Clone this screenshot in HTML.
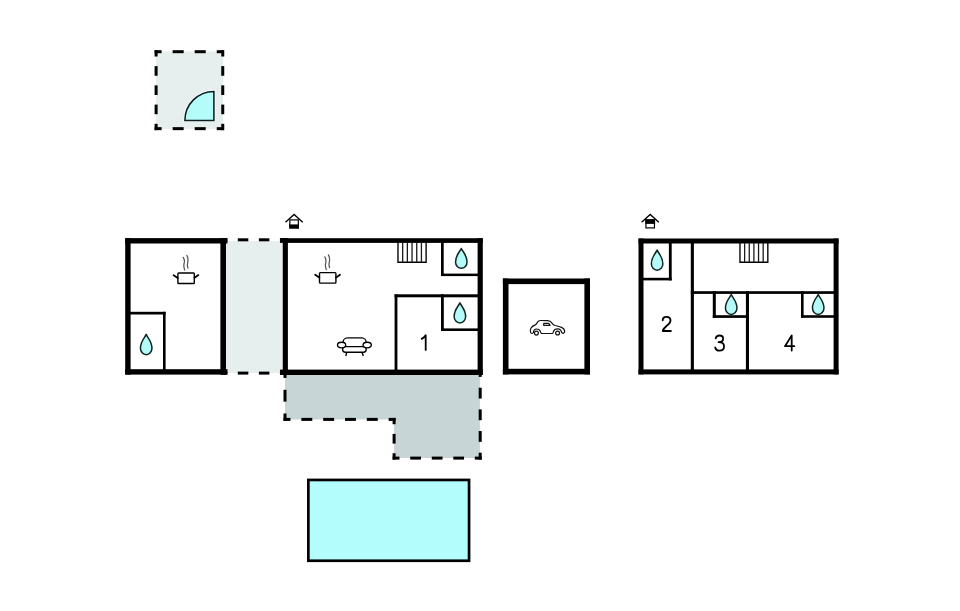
<!DOCTYPE html>
<html><head><meta charset="utf-8"><title>Floor plan</title>
<style>
html,body{margin:0;padding:0;background:#fff;}
body{width:960px;height:611px;overflow:hidden;position:relative;font-family:"Liberation Sans",sans-serif;}
svg{position:absolute;left:0;top:0;display:block;}
</style></head>
<body>
<svg width="960" height="611" viewBox="0 0 960 611">
<rect x="0" y="0" width="960" height="611" fill="#fff"/>
<rect x="156.00" y="51.50" width="67.00" height="77.50" fill="#e6efee"/>
<rect x="154.60" y="50.20" width="7.01" height="3.00" fill="#000"/>
<rect x="216.74" y="50.20" width="7.01" height="3.00" fill="#000"/>
<rect x="172.64" y="50.20" width="11.03" height="3.00" fill="#000"/>
<rect x="194.69" y="50.20" width="11.03" height="3.00" fill="#000"/>
<rect x="154.60" y="127.15" width="7.01" height="3.00" fill="#000"/>
<rect x="216.74" y="127.15" width="7.01" height="3.00" fill="#000"/>
<rect x="172.64" y="127.15" width="11.03" height="3.00" fill="#000"/>
<rect x="194.69" y="127.15" width="11.03" height="3.00" fill="#000"/>
<rect x="154.60" y="50.20" width="3.00" height="6.31" fill="#000"/>
<rect x="154.60" y="123.84" width="3.00" height="6.31" fill="#000"/>
<rect x="154.60" y="66.13" width="3.00" height="9.62" fill="#000"/>
<rect x="154.60" y="85.37" width="3.00" height="9.62" fill="#000"/>
<rect x="154.60" y="104.60" width="3.00" height="9.62" fill="#000"/>
<rect x="221.25" y="50.20" width="3.00" height="6.31" fill="#000"/>
<rect x="221.25" y="123.84" width="3.00" height="6.31" fill="#000"/>
<rect x="221.25" y="66.13" width="3.00" height="9.62" fill="#000"/>
<rect x="221.25" y="85.37" width="3.00" height="9.62" fill="#000"/>
<rect x="221.25" y="104.60" width="3.00" height="9.62" fill="#000"/>
<path d="M213.9,120.4 L184.9,120.4 A29.0,29.0 0 0 1 213.9,91.4 Z" fill="#b3fcf9" stroke="#f4fbfb" stroke-width="3.2" stroke-linejoin="miter"/>
<path d="M213.9,120.4 L184.9,120.4 A29.0,29.0 0 0 1 213.9,91.4 Z" fill="#b3fcf9" stroke="#0c1f1e" stroke-width="1.55" stroke-linejoin="miter"/>
<rect x="226.00" y="241.00" width="56.00" height="132.00" fill="#e6efee"/>
<rect x="220.50" y="238.30" width="6.77" height="3.00" fill="#000"/>
<rect x="279.93" y="238.30" width="6.77" height="3.00" fill="#000"/>
<rect x="237.80" y="238.30" width="10.53" height="3.00" fill="#000"/>
<rect x="258.87" y="238.30" width="10.53" height="3.00" fill="#000"/>
<rect x="220.50" y="371.60" width="6.77" height="3.00" fill="#000"/>
<rect x="279.93" y="371.60" width="6.77" height="3.00" fill="#000"/>
<rect x="237.80" y="371.60" width="10.53" height="3.00" fill="#000"/>
<rect x="258.87" y="371.60" width="10.53" height="3.00" fill="#000"/>
<path d="M285,372 H479.9 V458.1 H394.1 V419.4 H285 Z" fill="#c7d5d6"/>
<rect x="283.50" y="370.50" width="3.00" height="7.43" fill="#000"/>
<rect x="283.50" y="413.47" width="3.00" height="7.43" fill="#000"/>
<rect x="283.50" y="389.77" width="3.00" height="11.85" fill="#000"/>
<rect x="283.50" y="417.90" width="6.95" height="3.00" fill="#000"/>
<rect x="388.65" y="417.90" width="6.95" height="3.00" fill="#000"/>
<rect x="301.37" y="417.90" width="10.91" height="3.00" fill="#000"/>
<rect x="323.19" y="417.90" width="10.91" height="3.00" fill="#000"/>
<rect x="345.00" y="417.90" width="10.91" height="3.00" fill="#000"/>
<rect x="366.83" y="417.90" width="10.91" height="3.00" fill="#000"/>
<rect x="392.60" y="417.90" width="3.00" height="6.34" fill="#000"/>
<rect x="392.60" y="453.26" width="3.00" height="6.34" fill="#000"/>
<rect x="392.60" y="433.91" width="3.00" height="9.68" fill="#000"/>
<rect x="392.60" y="456.60" width="6.88" height="3.00" fill="#000"/>
<rect x="474.82" y="456.60" width="6.88" height="3.00" fill="#000"/>
<rect x="410.24" y="456.60" width="10.76" height="3.00" fill="#000"/>
<rect x="431.77" y="456.60" width="10.76" height="3.00" fill="#000"/>
<rect x="453.29" y="456.60" width="10.76" height="3.00" fill="#000"/>
<rect x="478.70" y="370.00" width="3.00" height="6.91" fill="#000"/>
<rect x="478.70" y="452.69" width="3.00" height="6.91" fill="#000"/>
<rect x="478.70" y="387.74" width="3.00" height="10.82" fill="#000"/>
<rect x="478.70" y="409.39" width="3.00" height="10.82" fill="#000"/>
<rect x="478.70" y="431.04" width="3.00" height="10.82" fill="#000"/>
<rect x="308.35" y="479.95" width="160.7" height="80.8" fill="#b3fefd" stroke="#000" stroke-width="2.7"/>
<rect x="125.20" y="238.20" width="5.40" height="136.40" fill="#000"/>
<rect x="220.40" y="238.20" width="5.60" height="136.40" fill="#000"/>
<rect x="125.20" y="238.10" width="102.30" height="5.40" fill="#000"/>
<rect x="125.20" y="369.20" width="102.30" height="5.40" fill="#000"/>
<rect x="130.00" y="311.80" width="35.60" height="2.70" fill="#000"/>
<rect x="163.00" y="311.80" width="2.60" height="58.20" fill="#000"/>
<path d="M146.20,334.40 C147.92,338.27 151.95,341.30 151.95,348.21 A5.75,6.44 0 0 1 140.45,348.21 C140.45,341.30 144.47,338.27 146.20,334.40 Z" fill="#b3faf8" stroke="#0f2624" stroke-width="1.5" stroke-linejoin="round"/>
<g transform="translate(-141.60,0.40)">
<rect x="319.5" y="272.6" width="16.4" height="10.5" rx="0.8" fill="#fff" stroke="#000" stroke-width="1.4"/>
<path d="M315.2,274.8 L319.3,277.6 M336.1,277.4 L340,274.7" fill="none" stroke="#000" stroke-width="1.8" stroke-linecap="round"/>
<path d="M324.8,256.9 C325.8,258.5 326.3,259.6 326.0,261.5 C325.6,263.5 325.2,265 325.5,266.5 C325.7,267.8 326.1,268.8 326.3,269.6" fill="none" stroke="#555" stroke-width="1.25" stroke-linecap="round"/>
<path d="M328.4,254.9 C329.3,256.5 329.8,258.2 329.6,260.2 C329.4,262 328.9,263.5 329.0,265 C329.1,266.2 329.4,267 329.6,267.7" fill="none" stroke="#555" stroke-width="1.25" stroke-linecap="round"/>
</g>
<rect x="280.00" y="238.20" width="202.80" height="4.70" fill="#000"/>
<rect x="280.00" y="369.60" width="202.80" height="5.40" fill="#000"/>
<rect x="282.70" y="238.20" width="5.20" height="136.80" fill="#000"/>
<rect x="477.60" y="238.20" width="5.20" height="136.80" fill="#000"/>
<rect x="441.00" y="242.00" width="2.70" height="33.80" fill="#000"/>
<rect x="441.00" y="273.60" width="37.00" height="2.50" fill="#000"/>
<rect x="394.60" y="294.30" width="2.80" height="75.70" fill="#000"/>
<rect x="394.60" y="294.30" width="83.40" height="3.00" fill="#000"/>
<rect x="441.00" y="294.30" width="2.80" height="36.70" fill="#000"/>
<rect x="441.00" y="328.40" width="37.00" height="2.60" fill="#000"/>
<g fill="none" stroke="#000" stroke-width="1.35">
<path d="M397.98,242.50 V262.22 H426.12 V242.50"/>
<path d="M402.67,242.50 V262.22" stroke="#1a1a1a" stroke-width="1.3"/>
<path d="M407.36,242.50 V262.22" stroke="#1a1a1a" stroke-width="1.3"/>
<path d="M412.05,242.50 V262.22" stroke="#1a1a1a" stroke-width="1.3"/>
<path d="M416.74,242.50 V262.22" stroke="#1a1a1a" stroke-width="1.3"/>
<path d="M421.43,242.50 V262.22" stroke="#1a1a1a" stroke-width="1.3"/>
</g>
<path d="M461.30,248.50 C463.03,252.25 467.05,255.21 467.05,261.91 A5.75,6.44 0 0 1 455.55,261.91 C455.55,255.21 459.57,252.25 461.30,248.50 Z" fill="#b3faf8" stroke="#0f2624" stroke-width="1.5" stroke-linejoin="round"/>
<path d="M459.90,302.90 C461.62,306.71 465.65,309.70 465.65,316.51 A5.75,6.44 0 0 1 454.15,316.51 C454.15,309.70 458.17,306.71 459.90,302.90 Z" fill="#b3faf8" stroke="#0f2624" stroke-width="1.5" stroke-linejoin="round"/>
<g transform="translate(0.00,0.00)">
<rect x="319.5" y="272.6" width="16.4" height="10.5" rx="0.8" fill="#fff" stroke="#000" stroke-width="1.4"/>
<path d="M315.2,274.8 L319.3,277.6 M336.1,277.4 L340,274.7" fill="none" stroke="#000" stroke-width="1.8" stroke-linecap="round"/>
<path d="M324.8,256.9 C325.8,258.5 326.3,259.6 326.0,261.5 C325.6,263.5 325.2,265 325.5,266.5 C325.7,267.8 326.1,268.8 326.3,269.6" fill="none" stroke="#555" stroke-width="1.25" stroke-linecap="round"/>
<path d="M328.4,254.9 C329.3,256.5 329.8,258.2 329.6,260.2 C329.4,262 328.9,263.5 329.0,265 C329.1,266.2 329.4,267 329.6,267.7" fill="none" stroke="#555" stroke-width="1.25" stroke-linecap="round"/>
</g>
<g fill="#fff" stroke="#000" stroke-width="1.35">
<rect x="343" y="337.8" width="23.2" height="9.6" rx="4.5"/>
<rect x="342.6" y="346.6" width="23.6" height="5.6" rx="2.8"/>
<ellipse cx="341.6" cy="345" rx="4.1" ry="2.8"/>
<ellipse cx="367.2" cy="345" rx="4.1" ry="2.8"/>
<path d="M346.7,352.5 L345.8,356 M362.1,352.5 L363.3,356" fill="none"/>
</g>
<path d="M421.7,338.9 C423.4,337.9 424.8,336.8 425.7,335.2 V349.9" fill="none" stroke="#000" stroke-width="1.8" stroke-linecap="round" stroke-linejoin="round"/>
<g>
<path d="M285.50,222.20 L294.10,214.40 L302.70,222.20" fill="none" stroke="#000" stroke-width="1.35" stroke-linecap="butt"/>
<rect x="289.85" y="219.9" width="8.5" height="8.0" fill="#fff" stroke="#000" stroke-width="1.2"/>
<rect x="289.25" y="224.40" width="9.70" height="4.10" fill="#000"/>
</g>
<rect x="502.90" y="278.50" width="87.10" height="5.60" fill="#000"/>
<rect x="502.90" y="368.80" width="87.10" height="5.60" fill="#000"/>
<rect x="502.90" y="278.50" width="5.60" height="95.90" fill="#000"/>
<rect x="584.40" y="278.50" width="5.60" height="95.90" fill="#000"/>
<g fill="none" stroke="#111" stroke-width="1.2" stroke-linejoin="round" stroke-linecap="round">
<path d="M532.4,333.4 C531.6,333.4 531.0,333.2 530.6,332.4 C530.2,331.4 530.2,329.4 530.9,328.2 C531.9,326.5 533.6,325.6 535.2,324.9 C536.4,324.3 537.0,322.8 537.9,321.7 C538.7,320.8 539.6,320.5 541.0,320.5 L547.6,320.6 C549.6,320.7 550.9,321.6 551.8,322.9 C552.6,324.0 553.2,325.0 555.1,325.5 C557.5,326.0 560.0,326.6 562.0,327.6 C563.4,328.3 564.4,329.4 564.6,330.8 C564.8,332.2 564.2,333.2 563.0,333.3 C562.4,333.3 561.9,332.9 561.6,332.2" />
<path d="M533.4,332.6 C533.6,330.4 534.8,329.0 536.5,329.0 C538.4,329.0 539.7,330.0 540.2,331.0 C540.6,332.0 540.8,333.4 541.6,333.5 L552.4,333.5 C553.0,333.4 553.2,332.5 553.5,331.4 C554.0,329.8 555.6,328.8 557.6,328.8 C559.8,328.8 561.2,330.4 561.6,332.2" />
<circle cx="536.4" cy="333.1" r="1.95" fill="#fff"/>
<circle cx="557.6" cy="333.0" r="1.95" fill="#fff"/>
<path d="M543.7,323.4 L548.3,323.4 C549.1,323.6 549.8,324.5 550.1,325.4 L543.7,325.4 Z" fill="none" stroke-width="1.15"/>
</g>
<rect x="638.50" y="238.50" width="200.10" height="5.00" fill="#000"/>
<rect x="638.50" y="369.40" width="200.10" height="5.00" fill="#000"/>
<rect x="638.50" y="238.50" width="5.00" height="135.90" fill="#000"/>
<rect x="833.60" y="238.50" width="5.00" height="135.90" fill="#000"/>
<rect x="668.90" y="243.00" width="2.80" height="37.40" fill="#000"/>
<rect x="643.00" y="277.80" width="28.70" height="2.60" fill="#000"/>
<rect x="690.80" y="243.00" width="3.10" height="127.00" fill="#000"/>
<rect x="690.80" y="291.20" width="143.20" height="2.70" fill="#000"/>
<rect x="745.90" y="291.20" width="3.10" height="78.80" fill="#000"/>
<rect x="712.80" y="291.20" width="3.00" height="26.70" fill="#000"/>
<rect x="712.80" y="315.20" width="35.20" height="2.70" fill="#000"/>
<rect x="801.00" y="291.20" width="2.60" height="26.60" fill="#000"/>
<rect x="801.00" y="315.20" width="33.00" height="2.60" fill="#000"/>
<g fill="none" stroke="#000" stroke-width="1.35">
<path d="M739.97,243.00 V262.22 H767.83 V243.00"/>
<path d="M744.62,243.00 V262.22" stroke="#1a1a1a" stroke-width="1.3"/>
<path d="M749.26,243.00 V262.22" stroke="#1a1a1a" stroke-width="1.3"/>
<path d="M753.90,243.00 V262.22" stroke="#1a1a1a" stroke-width="1.3"/>
<path d="M758.54,243.00 V262.22" stroke="#1a1a1a" stroke-width="1.3"/>
<path d="M763.18,243.00 V262.22" stroke="#1a1a1a" stroke-width="1.3"/>
</g>
<path d="M657.10,250.10 C658.83,253.94 662.85,256.95 662.85,263.81 A5.75,6.44 0 0 1 651.35,263.81 C651.35,256.95 655.38,253.94 657.10,250.10 Z" fill="#b3faf8" stroke="#0f2624" stroke-width="1.5" stroke-linejoin="round"/>
<path d="M731.20,294.50 C732.93,298.28 736.95,301.25 736.95,308.01 A5.75,6.44 0 0 1 725.45,308.01 C725.45,301.25 729.48,298.28 731.20,294.50 Z" fill="#b3faf8" stroke="#0f2624" stroke-width="1.5" stroke-linejoin="round"/>
<path d="M818.20,294.50 C819.93,298.28 823.95,301.25 823.95,308.01 A5.75,6.44 0 0 1 812.45,308.01 C812.45,301.25 816.48,298.28 818.20,294.50 Z" fill="#b3faf8" stroke="#0f2624" stroke-width="1.5" stroke-linejoin="round"/>
<g fill="none" stroke="#000" stroke-width="1.8" stroke-linecap="round" stroke-linejoin="round">
<path d="M662.7,320.3 C662.7,318 664.3,316.8 666.6,316.8 C668.9,316.8 670.5,318.2 670.5,320.4 C670.5,322.8 668.6,324.2 666.6,326.0 C664.6,327.8 662.8,329.2 662.8,331.0 H670.9"/>
<path d="M715.7,338.4 C716.1,336.6 717.5,335.5 719.5,335.5 C721.6,335.5 723.1,336.9 723.1,338.8 C723.1,340.8 721.2,342.2 718.6,342.2 C721.8,342.2 724.0,343.8 724.0,346.4 C724.0,349.0 722.0,350.6 719.5,350.6 C717.3,350.6 715.7,349.3 715.2,347.4"/>
<path d="M791.7,350.6 V335.4 L785.0,346.2 H794.3"/>
</g>
<g>
<path d="M641.60,222.20 L650.20,214.40 L658.80,222.20" fill="none" stroke="#000" stroke-width="1.35" stroke-linecap="butt"/>
<rect x="645.95" y="219.9" width="8.5" height="8.0" fill="#fff" stroke="#000" stroke-width="1.2"/>
<rect x="645.30" y="219.30" width="9.80" height="4.60" fill="#000"/>
</g>
</svg>
</body></html>
